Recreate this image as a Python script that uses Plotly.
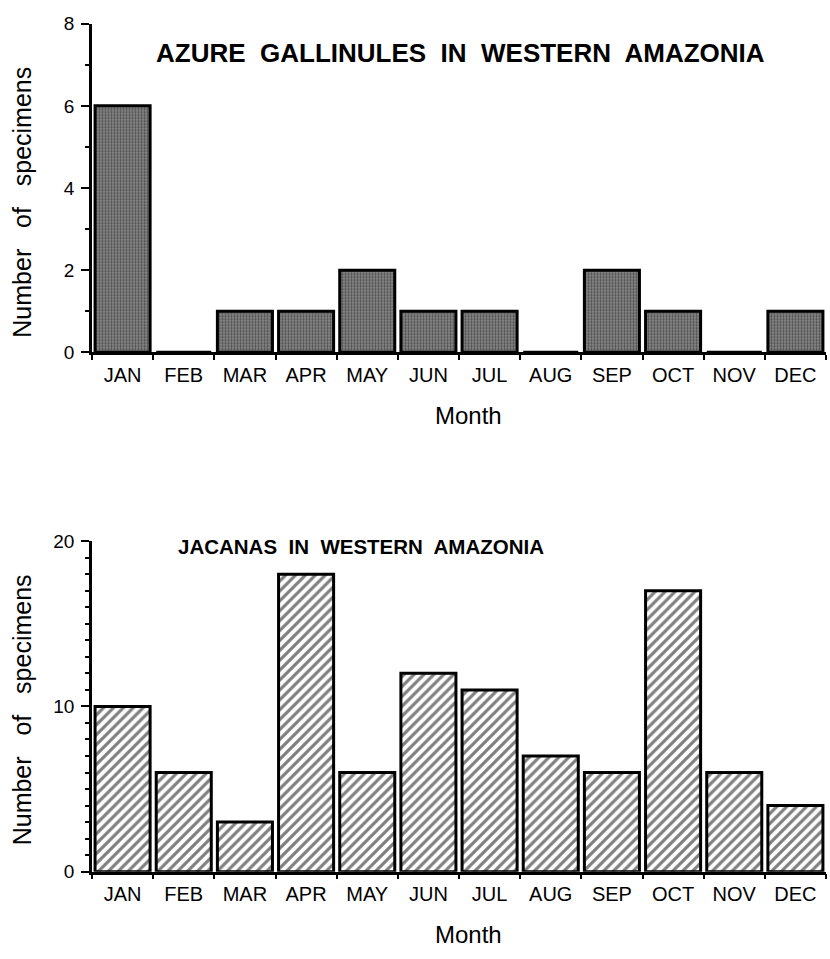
import plotly.graph_objects as go

months = ["JAN", "FEB", "MAR", "APR", "MAY", "JUN", "JUL", "AUG", "SEP", "OCT", "NOV", "DEC"]
gallinules = [6, 0, 1, 1, 2, 1, 1, 0, 2, 1, 0, 1]
jacanas = [10, 6, 3, 18, 6, 12, 11, 7, 6, 17, 6, 4]
title_top = "AZURE GALLINULES IN WESTERN AMAZONIA"
title_bottom = "JACANAS IN WESTERN AMAZONIA"
y_title = "Number of specimens"
x_title = "Month"

W, H = 830, 959
FONT = "Liberation Sans, Arial, Helvetica, sans-serif"
NB = "\u00a0"


def wide(s, n=1):
    return s.replace(" ", NB * n + " ")


fig = go.Figure()

fig.add_trace(go.Bar(
    x=months, y=gallinules, xaxis="x", yaxis="y", width=0.9,
    marker=dict(color="white", line=dict(color="black", width=3),
                pattern=dict(shape=".", fgcolor="#111", bgcolor="#8a8a8a", size=3, solidity=0.45)),
    showlegend=False))

fig.add_trace(go.Bar(
    x=months, y=jacanas, xaxis="x2", yaxis="y2", width=0.9,
    marker=dict(color="white", line=dict(color="black", width=3),
                pattern=dict(shape="/", fgcolor="black", bgcolor="white", size=7, solidity=0.45)),
    showlegend=False))


def xa(domain, anchor):
    return dict(domain=domain, anchor=anchor, type="category", range=[-0.5, 11.5],
                showline=True, linecolor="black", linewidth=2.5, ticks="outside", tickson="boundaries",
                ticklen=5, tickwidth=2, tickcolor="black", showgrid=False, zeroline=False,
                ticklabelstandoff=3,
                tickfont=dict(family=FONT, size=20, color="black"))


def ya(domain, anchor, rng, dtick):
    return dict(domain=domain, anchor=anchor, range=rng, dtick=dtick,
                showline=True, linecolor="black", linewidth=2.5, ticks="outside", ticklen=8,
                tickwidth=2, tickcolor="black", showgrid=False, zeroline=False,
                ticklabelstandoff=3,
                minor=dict(ticks="outside", ticklen=4, tickwidth=1.5, tickcolor="black", dtick=1),
                tickfont=dict(family=FONT, size=19, color="black"))


def ann(text, x, y, size, angle=0):
    return dict(text=text, x=x / W, y=1 - y / H, xref="paper", yref="paper", textangle=angle,
                xanchor="center", yanchor="middle", showarrow=False,
                font=dict(family=FONT, size=size, color="black"))


x0, x1 = 92 / W, 826 / W
top_dom = [1 - 350 / H, 1 - 14 / H]
bot_dom = [1 - 881 / H, 1 - 543 / H]
fig.update_layout(
    width=W, height=H, margin=dict(l=0, r=0, t=0, b=0),
    paper_bgcolor="white", plot_bgcolor="white",
    xaxis=xa([x0, x1], "y"),
    yaxis=ya(top_dom, "x", [0, 8], 2),
    xaxis2=xa([x0, x1], "y2"),
    yaxis2=ya(bot_dom, "x2", [0, 20], 10),
    annotations=[
        ann("<b>" + wide(title_top) + "</b>", 460, 44, 26),
        ann("<b>" + wide(title_bottom) + "</b>", 361, 549, 20.5),
        ann(wide(y_title, 2), 22, 197, 25, -90),
        ann(wide(y_title, 2), 22, 716, 25, -90),
        ann(x_title, 468, 415, 24),
        ann(x_title, 468, 945, 24),
    ],
)

fig.write_html("out.html")
